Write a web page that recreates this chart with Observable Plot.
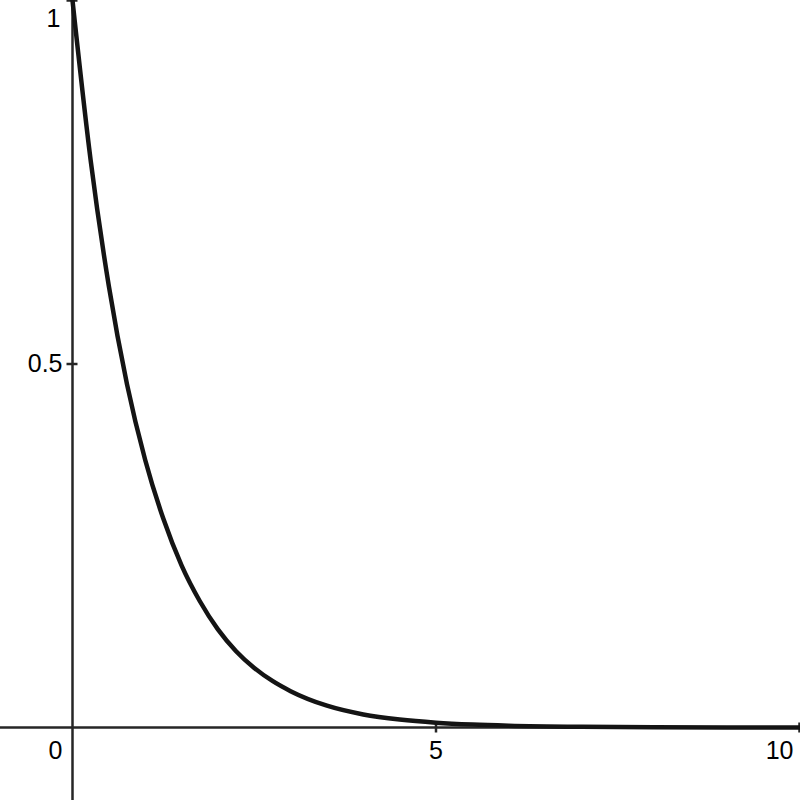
<!DOCTYPE html>
<html>
<head>
<meta charset="utf-8">
<script src="https://cdn.jsdelivr.net/npm/d3@7"></script>
<script src="https://cdn.jsdelivr.net/npm/@observablehq/plot@0.6"></script>
<style>
  html, body { margin: 0; padding: 0; background: #fff; }
  #chart svg { display: block; }
</style>
</head>
<body>
<div id="chart"></div>
<script>
// Curve sample points
const xs = [0, 0.25, 0.5, 0.75, 1, 1.25, 1.5, 1.75, 2, 2.25, 2.5, 2.75, 3, 3.5, 4, 4.5, 5, 5.5, 6, 7, 8, 9, 10];
const ys = [1, 0.78, 0.607, 0.472, 0.368, 0.287, 0.223, 0.174, 0.135, 0.105, 0.082, 0.064, 0.05, 0.03, 0.018, 0.011, 0.0067, 0.0041, 0.0025, 0.0009, 0.0003, 0.0001, 0.00005];

// Tick values and labels
const xTicks = [5, 10];
const xTickLabels = ["5", "10"];
const yTicks = [0.5, 1];
const yTickLabels = ["0.5", "1"];
const originLabel = "0";

const curve = xs.map((x, i) => ({x, y: ys[i]}));
const xLab = xTicks.map((v, i) => ({x: v, label: xTickLabels[i]}));
const yLab = yTicks.map((v, i) => ({y: v, label: yTickLabels[i]}));

const tickV = {draw(ctx) { ctx.moveTo(0, -5); ctx.lineTo(0, 5); }};
const tickH = {draw(ctx) { ctx.moveTo(-6, 0); ctx.lineTo(5, 0); }};

const axisColor = "#262626";
const font = "Liberation Sans, Arial, sans-serif";

const chart = Plot.plot({
  width: 800,
  height: 800,
  margin: 0,
  style: {background: "#fff", fontFamily: font},
  x: {domain: [-0.9904, 10.0138], axis: null},
  y: {domain: [-0.1004, 1.0], axis: null},
  marks: [
    Plot.ruleY([0], {stroke: axisColor, strokeWidth: 2.5}),
    Plot.ruleX([0], {stroke: axisColor, strokeWidth: 2.5}),
    Plot.dot(xTicks, {x: d => d, y: 0, symbol: tickV, r: 5, stroke: axisColor, strokeWidth: 2.5, fill: "none"}),
    Plot.dot(yTicks, {x: 0, y: d => d, symbol: tickH, r: 5, stroke: axisColor, strokeWidth: 2.5, fill: "none"}),
    Plot.line(curve, {x: "x", y: "y", curve: "monotone-x", stroke: "#141414", strokeWidth: 4.5}),
    Plot.text(xLab.filter(d => d.x < 10), {x: "x", y: 0, text: "label", dy: 23, fontSize: 25, fill: "#000", textAnchor: "middle"}),
    Plot.text(xLab.filter(d => d.x >= 10), {x: "x", y: 0, text: "label", dy: 23, dx: -6, fontSize: 25, fill: "#000", textAnchor: "end"}),
    Plot.text(yLab.filter(d => d.y < 1), {x: 0, y: "y", text: "label", dx: -10, fontSize: 25, fill: "#000", textAnchor: "end"}),
    Plot.text(yLab.filter(d => d.y >= 1), {x: 0, y: "y", text: "label", dx: -12, dy: 18, fontSize: 25, fill: "#000", textAnchor: "end"}),
    Plot.text([originLabel], {x: 0, y: 0, text: d => d, dx: -17, dy: 23, fontSize: 25, fill: "#000", textAnchor: "middle"})
  ]
});
document.getElementById("chart").appendChild(chart);
</script>
</body>
</html>
